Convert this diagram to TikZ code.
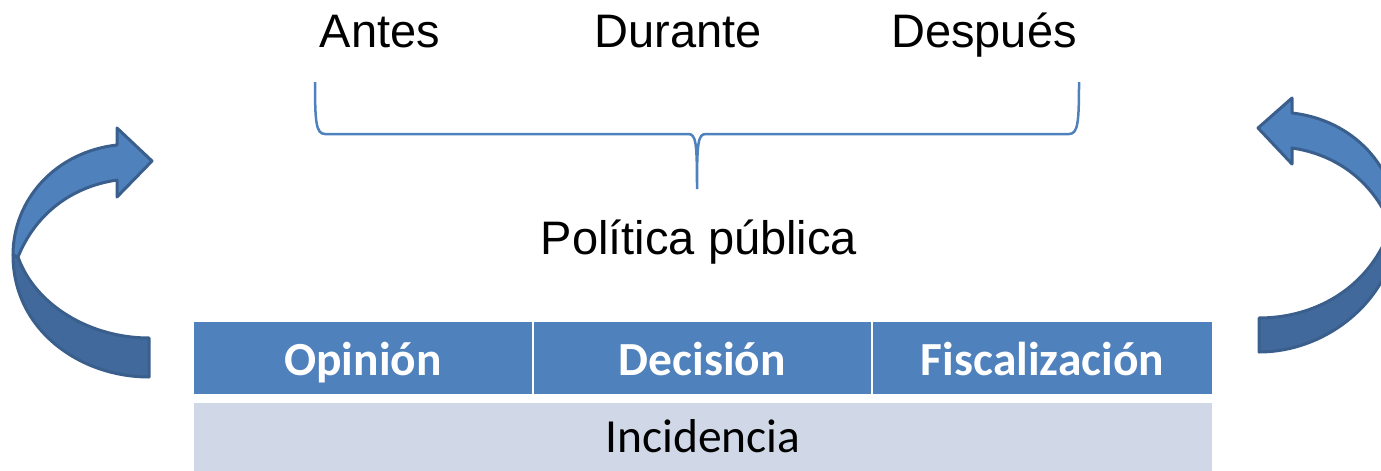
\documentclass[tikz,border=0pt]{standalone}
\usepackage{fontspec}
\setmainfont{Liberation Sans}
\newfontfamily\cellfont{Carlito}
\usetikzlibrary{positioning}
\definecolor{officeblue}{HTML}{4F81BD}
\definecolor{darkblue}{HTML}{41699B}
\definecolor{edgeblue}{HTML}{3A5F8C}
\definecolor{rowgray}{HTML}{D0D8E8}

\begin{document}
\begin{tikzpicture}[x=1pt,y=-1pt]
    \tikzstyle{phase}=[anchor=base, inner sep=0pt, font=\fontsize{47}{56}\selectfont]
    \tikzstyle{head cell}=[rectangle, fill=officeblue, text=white, inner sep=0pt, minimum height=72pt, text height=34pt, text depth=0pt, font=\cellfont\bfseries\fontsize{47.5}{56}\selectfont]
    \tikzstyle{foot cell}=[rectangle, fill=rowgray, inner sep=0pt, minimum height=68pt, text height=30pt, text depth=0pt, font=\cellfont\fontsize{47.5}{56}\selectfont]
    \tikzstyle{brace}=[draw=officeblue, line width=2.5pt]
    \tikzstyle{arrow back}=[fill=darkblue, draw=edgeblue, line width=3pt, line join=round]
    \tikzstyle{arrow front}=[fill=officeblue, draw=edgeblue, line width=3pt, line join=round]

    \clip (0,0) rectangle (1381,471);

    \node[phase] (antes) at (380,47) {Antes};
    \node[phase] (durante) at (678,47) {Durante};
    \node[phase] (despues) at (984,47) {Después};
    \node[phase] (politica) at (699,254) {Política pública};

    % brace under the three phases
    \draw[brace] (315,82) .. controls (315,122) and (316,134) .. (325,134) -- (688,134)
        .. controls (696,134) and (697,142) .. (697,189)
        .. controls (697,142) and (698,134) .. (706,134) -- (1069,134)
        .. controls (1078,134) and (1079,122) .. (1079,82);

    \node[head cell, minimum width=338pt] (opinion) at (363,358) {Opinión};
    \node[head cell, minimum width=337pt] (decision) at (702.5,358) {Decisión};
    \node[head cell, minimum width=339pt] (fiscal) at (1042.5,358) {Fiscalización};
    \node[foot cell, minimum width=1018pt] (incidencia) at (703,437) {Incidencia};

    % left curved arrow
    \draw[arrow back] (13,255) .. controls (13,330) and (80,377) .. (149,377) -- (149,338)
        .. controls (90,338) and (35,305) .. (18,257) -- cycle;
    \draw[arrow front] (117,145) .. controls (55,152) and (13,200) .. (13,255) -- (18,257)
        .. controls (35,215) and (70,187) .. (117,180) -- (117,197) -- (152,161) -- (117,128) -- cycle;

    % right curved arrow
    \draw[arrow back] (1397,224) .. controls (1397,295) and (1330,352) .. (1259,352) -- (1259,318)
        .. controls (1318,318) and (1372,285) .. (1391,226) -- cycle;
    \draw[arrow front] (1292,113) .. controls (1354,120) and (1397,168) .. (1397,224) -- (1391,226)
        .. controls (1375,185) and (1340,155) .. (1292,148) -- (1292,164) -- (1258,128) -- (1292,98) -- cycle;
\end{tikzpicture}
\end{document}
